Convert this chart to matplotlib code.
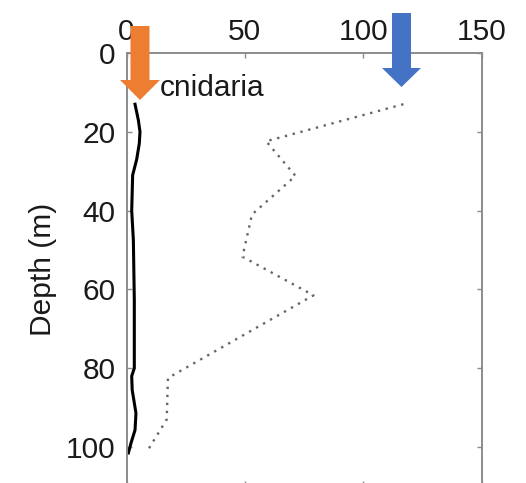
import matplotlib.pyplot as plt
from matplotlib.patches import Polygon

# cnidaria profile (solid) and comparison profile (dotted)
solid_depth = [13, 17, 20, 23, 27, 31, 40, 47.5, 62.7, 66, 80, 82, 85.5, 91.4, 95.7, 99, 101.5]
solid_value = [3.6, 5.0, 5.7, 5.4, 4.3, 2.6, 2.2, 2.9, 3.3, 3.3, 3.3, 2.2, 2.4, 4.0, 3.6, 1.9, 0.8]

dotted_depth = [13, 22.4, 31.2, 41, 51.7, 61.5, 82.5, 93, 101.5]
dotted_value = [117, 59, 71.4, 53, 49, 79, 17.5, 17, 8.3]

x_ticks = [0, 50, 100, 150]
y_ticks = [0, 20, 40, 60, 80, 100]
label_text = "cnidaria"

W, H = 526, 483
FS = 21.5
plt.rcParams.update({
    "font.family": ["Liberation Sans", "DejaVu Sans"],
    "font.size": FS,
})

fig = plt.figure(figsize=(W / 100, H / 100), dpi=100, facecolor="white")
ax = fig.add_axes([126.5 / W, 1 - (53 + 110 * 3.94) / H, 355 / W, 110 * 3.94 / H])

ax.plot(solid_value, solid_depth, color="black", lw=2.2, solid_joinstyle="round")
ax.plot(dotted_value, dotted_depth, color="#666666", lw=1.7, linestyle=(0, (1, 2.4)))

ax.text(14, 10.8, label_text, fontsize=FS, va="baseline", ha="left", color="#1a1a1a")

ax.set_xlim(0, 150)
ax.set_ylim(110, 0)
ax.set_xticks(x_ticks)
ax.set_yticks(y_ticks)
ax.xaxis.tick_top()
ax.tick_params(axis="both", which="both", direction="in", length=3.5, width=1.0,
               color="#8c8c8c", labelcolor="#1a1a1a", top=True, right=True,
               bottom=True, left=True)
ax.tick_params(axis="y", pad=8)
ax.tick_params(axis="x", pad=5)
ax.set_ylabel("Depth (m)", fontsize=FS, color="#1a1a1a", labelpad=6)
for s in ax.spines.values():
    s.set_color("#8c8c8c")
    s.set_linewidth(1.4)


def down_arrow(cx, top, tip, shaft_w, head_w, head_base, color):
    # outline given in pixel units, converted to figure fraction
    pts = [
        (cx - shaft_w / 2, top), (cx + shaft_w / 2, top),
        (cx + shaft_w / 2, head_base), (cx + head_w / 2, head_base),
        (cx, tip), (cx - head_w / 2, head_base),
        (cx - shaft_w / 2, head_base),
    ]
    pts = [(x / W, 1 - y / H) for x, y in pts]
    fig.patches.append(Polygon(pts, closed=True, facecolor=color, edgecolor="none",
                               transform=fig.transFigure, zorder=10))


down_arrow(140, 26, 100, 19, 40, 80, "#ED7D31")
down_arrow(401.5, 13, 87, 19, 39, 68, "#4472C4")

fig.savefig("out.png", dpi=100, facecolor="white")
